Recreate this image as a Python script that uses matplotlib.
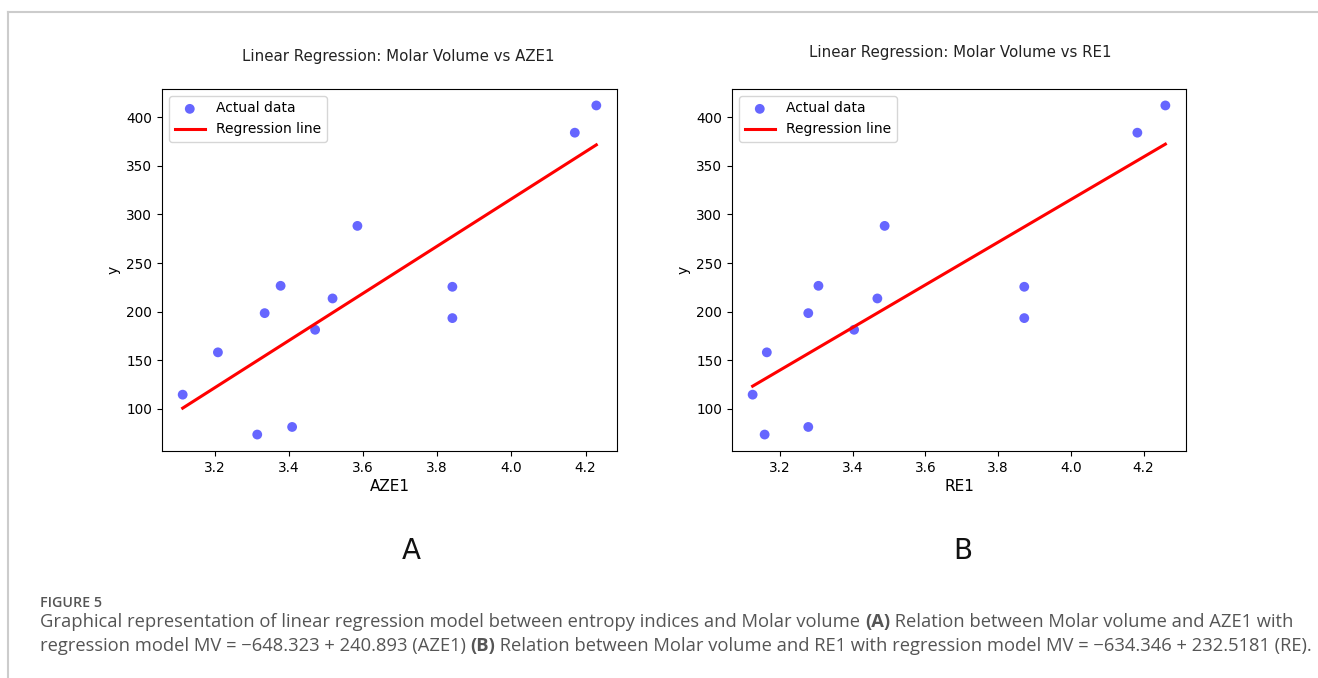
import numpy as np
import matplotlib
matplotlib.use("Agg")
import matplotlib.pyplot as plt
from matplotlib.lines import Line2D

# ---- data ----
azE1 = [3.114, 3.209, 3.315, 3.335, 3.378, 3.409, 3.471, 3.518, 3.585, 3.841, 3.841, 4.171, 4.229]
re1 = [3.125, 3.164, 3.158, 3.278, 3.306, 3.278, 3.404, 3.468, 3.488, 3.872, 3.872, 4.183, 4.260]
molar_volume = [114.7, 158.2, 73.7, 198.5, 226.6, 81.5, 181.4, 213.6, 288.2, 225.6, 193.4, 384.0, 412.0]
titles = ["Linear Regression: Molar Volume vs AZE1", "Linear Regression: Molar Volume vs RE1"]
xlabels = ["AZE1", "RE1"]
panel_letters = ["A", "B"]

W, H = 1318, 678
fig = plt.figure(figsize=(W / 100, H / 100), dpi=100)
plt.rcParams['font.family'] = ['DejaVu Sans']

def fx(px):
    return px / W

def fy(py):
    return 1 - py / H

axes_px = [(162, 89, 617, 451), (732, 89, 1186, 451)]
title_pos = [(398, 57), (960, 53)]
letter_pos = [(411, 551), (963, 551)]

for i, xs in enumerate([azE1, re1]):
    x0, y0, x1, y1 = axes_px[i]
    ax = fig.add_axes([fx(x0), fy(y1), fx(x1 - x0), (y1 - y0) / H])
    xarr = np.array(xs)
    yarr = np.array(molar_volume)
    ax.scatter(xarr, yarr, color='blue', alpha=0.6, s=50, label='Actual data', edgecolors='none')
    coef = np.polyfit(xarr, yarr, 1)
    xl = np.array([xarr.min(), xarr.max()])
    ax.plot(xl, np.polyval(coef, xl), color='red', linewidth=2.2, label='Regression line')
    ax.set_xlabel(xlabels[i], fontsize=11, labelpad=3)
    ax.set_ylabel('y', fontsize=10)
    ax.tick_params(labelsize=9.8)
    ax.set_yticks([100, 150, 200, 250, 300, 350, 400])
    ax.set_xticks([3.2, 3.4, 3.6, 3.8, 4.0, 4.2])
    ax.legend(loc='upper left', fontsize=10, handlelength=2.2)
    fig.text(fx(title_pos[i][0]), fy(title_pos[i][1]), titles[i], ha='center', va='center',
             fontsize=10.8, color='#222222')
    fig.text(fx(letter_pos[i][0]), fy(letter_pos[i][1]), panel_letters[i], ha='center', va='center',
             fontsize=20, color='#111111')

# border lines
fig.add_artist(Line2D([fx(8), fx(8)], [fy(12), 0], color='#cccccc', linewidth=1.5))
fig.add_artist(Line2D([fx(8), 1], [fy(12), fy(12)], color='#cccccc', linewidth=1.5))

# caption
cap_color = '#555555'
cap_family = ['Open Sans', 'DejaVu Sans']
fig.text(fx(40), fy(603), 'FIGURE 5', fontsize=10.3, color=cap_color, family=cap_family,
         fontweight='semibold', va='center', ha='left')

line1 = [("Graphical representation of linear regression model between entropy indices and Molar volume ", 'normal'),
         ("(A)", 'bold'),
         (" Relation between Molar volume and AZE1 with", 'normal')]
line2 = [("regression model MV = \u2212648.323 + 240.893 (AZE1) ", 'normal'),
         ("(B)", 'bold'),
         (" Relation between Molar volume and RE1 with regression model MV = \u2212634.346 + 232.5181 (RE).", 'normal')]

renderer = fig.canvas.get_renderer()
for line, ypx in [(line1, 622), (line2, 646)]:
    xcur = fx(40)
    for txt, wt in line:
        t = fig.text(xcur, fy(ypx), txt, fontsize=13.2, color=cap_color, family=cap_family,
                     fontweight=wt, va='center', ha='left')
        bb = t.get_window_extent(renderer=renderer)
        xcur = bb.x1 / W

fig.savefig('out.png', dpi=100)
